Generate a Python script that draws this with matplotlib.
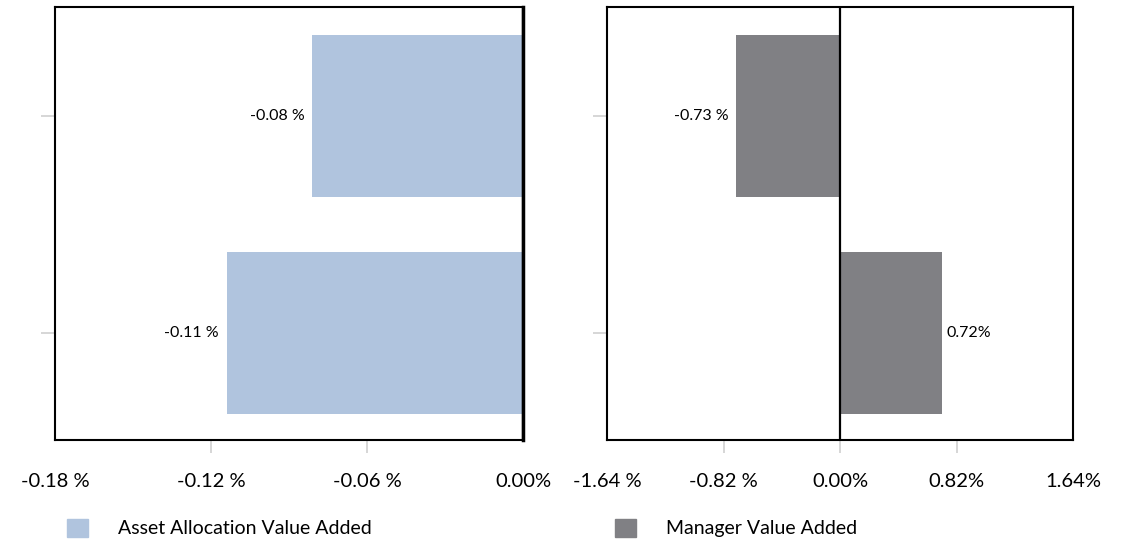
import matplotlib
matplotlib.use('Agg')
import matplotlib.pyplot as plt
from matplotlib.patches import Patch

plt.rcParams['font.family'] = ['Lato', 'DejaVu Sans']

categories = ['A', 'B']
asset_alloc = [-0.081, -0.114]
manager_va = [-0.73, 0.72]
left_ticks = [-0.18, -0.12, -0.06, 0.00]
right_ticks = [-1.64, -0.82, 0.00, 0.82, 1.64]

BLUE = '#b0c4de'
GREY = '#808084'
TICKC = '#d0d0d0'


def pct(v):
    if v < 0:
        return '%.2f %%' % v
    return '%.2f%%' % abs(v)


fig = plt.figure(figsize=(11.22, 5.47), dpi=100)
ax1 = fig.add_axes([55 / 1122, 1 - 440 / 547, 468 / 1122, 433 / 547])
ax2 = fig.add_axes([607 / 1122, 1 - 440 / 547, 466 / 1122, 433 / 547])

ypos = list(range(len(categories)))

for ax, vals, color, ticks in [(ax1, asset_alloc, BLUE, left_ticks),
                               (ax2, manager_va, GREY, right_ticks)]:
    ax.barh(ypos, vals, height=0.745, color=color, zorder=2)
    ax.set_ylim(1.49, -0.5)
    ax.set_xlim(ticks[0], ticks[-1])
    ax.set_xticks(ticks)
    ax.set_xticklabels([pct(t) for t in ticks])
    ax.set_yticks(ypos)
    ax.set_yticklabels([])
    ax.axvline(0, color='black', lw=1.6, zorder=3)
    for s in ax.spines.values():
        s.set_linewidth(1.5)
        s.set_color('black')
    ax.tick_params(axis='y', length=10, width=1.2, color=TICKC)
    ax.tick_params(axis='x', length=9, width=1.2, color=TICKC, labelsize=14.5, pad=15)
    # hide edge x ticks
    xt = ax.xaxis.get_major_ticks()
    xt[0].tick1line.set_visible(False)
    xt[-1].tick1line.set_visible(False)
    span = ticks[-1] - ticks[0]
    for y, v in zip(ypos, vals):
        if v < 0:
            ax.text(v - span * 0.017, y, pct(v), ha='right', va='center', fontsize=11.5)
        else:
            ax.text(v + span * 0.008, y, pct(v), ha='left', va='center', fontsize=11.5)

ax1.spines['right'].set_linewidth(2.5)

fig.legend(handles=[Patch(color=BLUE)], labels=['Asset Allocation Value Added'],
           loc='center left', bbox_to_anchor=(67 / 1122, 1 - 528 / 547), frameon=False,
           borderpad=0, borderaxespad=0,
           fontsize=14, handlelength=1.08, handleheight=1.08, handletextpad=1.55)
fig.legend(handles=[Patch(color=GREY)], labels=['Manager Value Added'],
           loc='center left', bbox_to_anchor=(615 / 1122, 1 - 528 / 547), frameon=False,
           borderpad=0, borderaxespad=0,
           fontsize=14, handlelength=1.08, handleheight=1.08, handletextpad=1.55)

fig.savefig('out.png', dpi=100)
